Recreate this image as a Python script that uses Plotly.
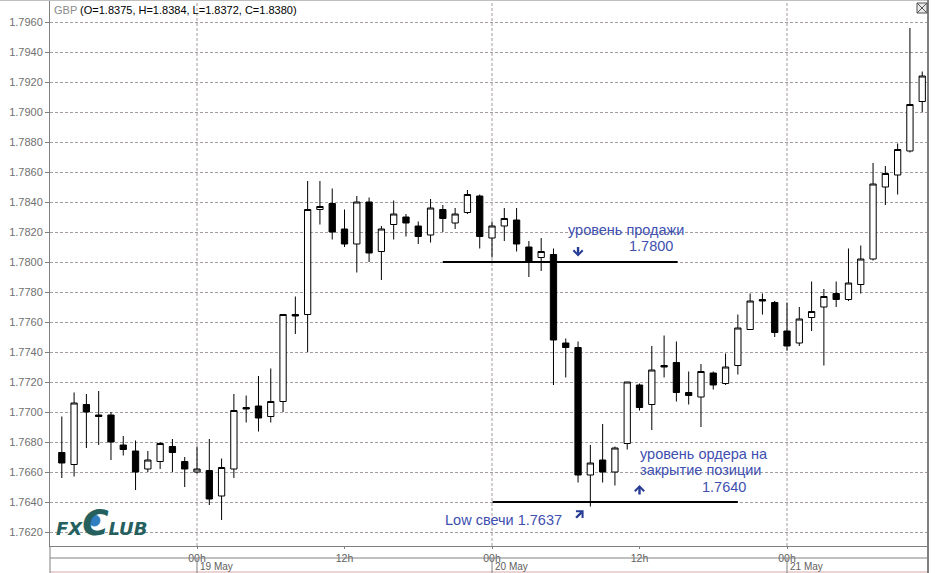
import plotly.graph_objects as go

# ---- data: hourly candles, hours counted from 00h 19 May ----
hours = list(range(-11, 60))
opens = [1.7673, 1.7665, 1.7705, 1.7698, 1.7698, 1.7678, 1.7674, 1.7662, 1.7667, 1.7677,
         1.7667, 1.7660, 1.7661, 1.7644, 1.7662, 1.7703, 1.7704, 1.7697, 1.7707, 1.7765,
         1.7765, 1.7835, 1.7839, 1.7822, 1.7812, 1.7840, 1.7807, 1.7825, 1.7830, 1.7824,
         1.7818, 1.7835, 1.7826, 1.7833, 1.7844, 1.7816, 1.7824, 1.7828, 1.7810, 1.7803,
         1.7805, 1.7746, 1.7743, 1.7658, 1.7668, 1.7660, 1.7679, 1.7718, 1.7705, 1.7731,
         1.7733, 1.7713, 1.7710, 1.7726, 1.7719, 1.7731, 1.7755, 1.7775, 1.7773, 1.7754,
         1.7746, 1.7763, 1.7770, 1.7779, 1.7775, 1.7785, 1.7802, 1.7850, 1.7858, 1.7874,
         1.7907]
highs = [1.7697, 1.7713, 1.7712, 1.7714, 1.7700, 1.7684, 1.7681, 1.7674, 1.7680, 1.7682,
         1.7670, 1.7677, 1.7682, 1.7669, 1.7712, 1.7711, 1.7724, 1.7729, 1.7765, 1.7777,
         1.7854, 1.7854, 1.7849, 1.7835, 1.7844, 1.7843, 1.7824, 1.7841, 1.7832, 1.7827,
         1.7842, 1.7838, 1.7836, 1.7848, 1.7845, 1.7827, 1.7836, 1.7836, 1.7814, 1.7816,
         1.7809, 1.7749, 1.7747, 1.7678, 1.7692, 1.7677, 1.7720, 1.7719, 1.7744, 1.7751,
         1.7747, 1.7727, 1.7732, 1.7727, 1.7739, 1.7765, 1.7779, 1.7779, 1.7774, 1.7773,
         1.7770, 1.7787, 1.7782, 1.7787, 1.7809, 1.7811, 1.7866, 1.7864, 1.7879, 1.7956,
         1.7927]
lows = [1.7656, 1.7657, 1.7676, 1.7678, 1.7668, 1.7671, 1.7648, 1.7660, 1.7662, 1.7660,
        1.7650, 1.7659, 1.7638, 1.7628, 1.7656, 1.7693, 1.7687, 1.7693, 1.7700, 1.7752,
        1.7740, 1.7825, 1.7815, 1.7810, 1.7793, 1.7800, 1.7788, 1.7815, 1.7817, 1.7812,
        1.7813, 1.7820, 1.7822, 1.7832, 1.7809, 1.7803, 1.7814, 1.7807, 1.7790, 1.7794,
        1.7718, 1.7723, 1.7653, 1.7637, 1.7653, 1.7651, 1.7675, 1.7701, 1.7688, 1.7723,
        1.7707, 1.7705, 1.7690, 1.7715, 1.7718, 1.7725, 1.7755, 1.7765, 1.7750, 1.7741,
        1.7744, 1.7754, 1.7731, 1.7770, 1.7774, 1.7779, 1.7801, 1.7838, 1.7845, 1.7873,
        1.7900]
closes = [1.7666, 1.7706, 1.7700, 1.7697, 1.7680, 1.7675, 1.7660, 1.7668, 1.7679, 1.7673,
          1.7662, 1.7662, 1.7642, 1.7663, 1.7701, 1.7702, 1.7696, 1.7707, 1.7765, 1.7764,
          1.7835, 1.7837, 1.7820, 1.7812, 1.7840, 1.7806, 1.7822, 1.7832, 1.7826, 1.7817,
          1.7836, 1.7829, 1.7832, 1.7845, 1.7817, 1.7824, 1.7829, 1.7812, 1.7800, 1.7807,
          1.7748, 1.7743, 1.7658, 1.7666, 1.7660, 1.7676, 1.7720, 1.7703, 1.7728, 1.7730,
          1.7713, 1.7711, 1.7727, 1.7718, 1.7730, 1.7756, 1.7774, 1.7774, 1.7753, 1.7744,
          1.7762, 1.7767, 1.7777, 1.7775, 1.7786, 1.7802, 1.7852, 1.7859, 1.7875, 1.7905,
          1.7924]

# axis labels
price_ticks = [1.7620, 1.7640, 1.7660, 1.7680, 1.7700, 1.7720, 1.7740, 1.7760, 1.7780,
               1.7800, 1.7820, 1.7840, 1.7860, 1.7880, 1.7900, 1.7920, 1.7940, 1.7960]
hour_ticks = [0, 12, 24, 36, 48]
hour_labels = ["00h", "12h", "00h", "12h", "00h"]
day_starts = [0, 24, 48]
day_labels = ["19 May", "20 May", "21 May"]
x_range = [-11.96, 59.47]
y_range = [1.761067, 1.7974]

# level lines (price, from hour, to hour)
sell_level = [1.7800, 20.0, 39.1]
close_level = [1.7640, 24.05, 44.0]

header_title = "GBP"
header_values = "(O=1.8375, H=1.8384, L=1.8372, C=1.8380)"

BLUE = "#4050b0"
ARROW = "#263c94"
GRID = "#a49c9c"
AXIS = "#808080"
FONT = "Liberation Sans, Arial, sans-serif"

fig = go.Figure()
fig.add_trace(go.Candlestick(
    x=hours, open=opens, high=highs, low=lows, close=closes,
    increasing=dict(line=dict(color="black", width=1), fillcolor="white"),
    decreasing=dict(line=dict(color="black", width=1), fillcolor="black"),
    whiskerwidth=0, hoverinfo="skip", showlegend=False,
))

shapes = []
for d in day_starts:
    shapes.append(dict(type="line", xref="x", yref="paper", x0=d, x1=d, y0=0, y1=1,
                       line=dict(color=GRID, width=1, dash="3px,2px"), layer="below"))
for lvl in (sell_level, close_level):
    shapes.append(dict(type="line", xref="x", yref="y", x0=lvl[1], x1=lvl[2], y0=lvl[0], y1=lvl[0],
                       line=dict(color="black", width=2)))

PH = 545.0
PW = 878.0
def py(px):  # pixel row -> paper y
    return 1 - (px - 1) / PH
def pxx(px):  # pixel column -> paper x
    return (px - 50) / PW

shapes.append(dict(type="line", xref="paper", yref="paper", x0=0, x1=1, y0=py(558), y1=py(558),
                   line=dict(color=AXIS, width=1)))
shapes.append(dict(type="line", xref="paper", yref="paper", x0=0, x1=1, y0=py(572), y1=py(572),
                   line=dict(color="#d8a8a8", width=1)))
for d in day_starts:
    shapes.append(dict(type="line", xref="x", yref="paper", x0=d, x1=d, y0=py(558), y1=py(573),
                       line=dict(color=AXIS, width=1)))
shapes.append(dict(type="line", xref="paper", yref="paper", x0=0, x1=0, y0=py(573), y1=0,
                   line=dict(color=AXIS, width=1)))
shapes.append(dict(type="line", xref="paper", yref="paper", x0=1, x1=1, y0=py(574), y1=py(0),
                   line=dict(color=AXIS, width=2)))
shapes.append(dict(type="line", xref="paper", yref="paper", x0=-0.06, x1=1, y0=py(0), y1=py(0),
                   line=dict(color=AXIS, width=1)))
bx0, bx1 = pxx(917), pxx(927)
shapes.append(dict(type="rect", xref="paper", yref="paper", x0=bx0, x1=bx1, y0=py(13), y1=py(3),
                   line=dict(color="#555", width=1), fillcolor="#e8e8e8"))
shapes.append(dict(type="line", xref="paper", yref="paper", x0=bx0, x1=bx1, y0=py(13), y1=py(3),
                   line=dict(color="#555", width=1)))
shapes.append(dict(type="line", xref="paper", yref="paper", x0=bx0, x1=bx1, y0=py(3), y1=py(13),
                   line=dict(color="#555", width=1)))
# globe inside the logo's C
shapes.append(dict(type="circle", xref="paper", yref="paper", x0=pxx(89), x1=pxx(100),
                   y0=py(526), y1=py(515), line=dict(color="#2f7fc0", width=1),
                   fillcolor="#2f7fc0"))

ann = []
ann.append(dict(xref="paper", yref="paper", x=0, y=1, xanchor="left", yanchor="top",
                xshift=2, yshift=-1, showarrow=False,
                text=f"<span style='color:#8a8a8a'>{header_title}</span> {header_values}",
                font=dict(family=FONT, size=11, color="black")))
for d, lab in zip(day_starts, day_labels):
    ann.append(dict(xref="x", yref="paper", x=d, y=py(566.8), xanchor="left", yanchor="middle",
                    xshift=1, showarrow=False, text=lab,
                    font=dict(family=FONT, size=10, color="#606060")))

txt = dict(family=FONT, size=14.5, color=BLUE)
labels = [
    dict(x=30.0, y=1.78213, text="уровень продажи", xanchor="left"),
    dict(x=38.85, y=1.78105, text="1.7800", xanchor="right"),
    dict(x=35.85, y=1.76722, text="уровень ордера на", xanchor="left"),
    dict(x=35.85, y=1.76612, text="закрытие позиции", xanchor="left"),
    dict(x=44.8, y=1.76502, text="1.7640", xanchor="right"),
    dict(x=20.0, y=1.76282, text="Low свечи 1.7637", xanchor="left"),
]
for a in labels:
    a.update(xref="x", yref="y", yanchor="middle", showarrow=False, font=txt)
ann += labels

# pointer arrows: tip position (hour, price) and tail offset in pixels
arrows = [(31.0, 1.78037, 0, -11), (36.0, 1.76513, 0, 11), (31.45, 1.76345, -9, 9)]
for x, y, ax, ay in arrows:
    ann.append(dict(xref="x", yref="y", x=x, y=y, ax=ax, ay=ay, axref="pixel", ayref="pixel",
                    text="", showarrow=True, arrowhead=4, arrowsize=0.75, arrowwidth=2.4,
                    arrowcolor=ARROW))

# logo
ann.append(dict(xref="paper", yref="paper", x=0.005, y=py(522), xanchor="left", yanchor="middle",
                showarrow=False,
                text="<b><i>FX<span style='font-size:36px'>C</span>LUB</i></b>",
                font=dict(family="DejaVu Sans, sans-serif", size=18, color="#25605e")))

fig.update_layout(
    width=940, height=573,
    margin=dict(l=50, r=12, t=1, b=27),
    paper_bgcolor="white", plot_bgcolor="white",
    showlegend=False, boxgap=0.27,
    font=dict(family=FONT, size=11, color="#606060"),
    shapes=shapes, annotations=ann,
    xaxis=dict(range=x_range, tickvals=hour_ticks, ticktext=hour_labels,
               showgrid=False, zeroline=False, showline=True, linecolor=AXIS, linewidth=1,
               ticks="outside", ticklen=2, tickcolor=AXIS,
               tickfont=dict(family=FONT, size=10.5, color="#606060"),
               rangeslider=dict(visible=False), fixedrange=True, automargin=False),
    yaxis=dict(range=y_range, tickvals=price_ticks, tickformat=".4f",
               showgrid=True, gridcolor=GRID, griddash="3px,2px", gridwidth=1,
               zeroline=False, showline=True, linecolor=AXIS, linewidth=1,
               ticks="outside", ticklen=4, tickcolor=AXIS,
               tickfont=dict(family=FONT, size=11, color="#707070"), fixedrange=True,
               automargin=False),
)

fig.write_html("out.html", config={"displayModeBar": False},
               post_script="document.body.style.margin='0';document.body.style.overflow='hidden';")
